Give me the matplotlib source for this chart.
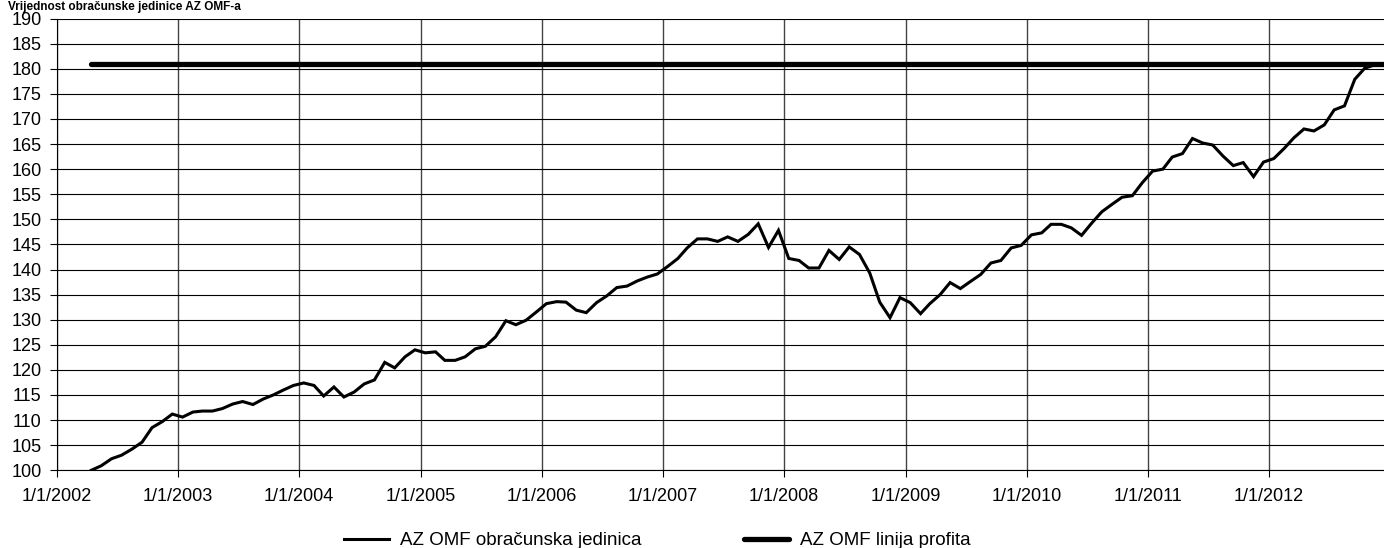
import numpy as np
import pandas as pd
import matplotlib
matplotlib.use("Agg")
import matplotlib.pyplot as plt

plt.rcParams['font.family'] = ['Liberation Sans', 'DejaVu Sans']

# monthly values of the accounting unit, April 2002 - December 2012
jedinica = [100.0, 100.9, 102.3, 103.0, 104.2, 105.6, 108.5, 109.7, 111.2, 110.6,
            111.6, 111.8, 111.8, 112.3, 113.2, 113.7, 113.1, 114.2, 115.0, 116.0,
            116.9, 117.4, 116.9, 114.8, 116.6, 114.6, 115.6, 117.2, 118.0, 121.5,
            120.4, 122.6, 124.0, 123.4, 123.6, 121.9, 121.9, 122.6, 124.2, 124.7,
            126.6, 129.8, 129.0, 129.9, 131.5, 133.2, 133.6, 133.5, 131.9, 131.4,
            133.4, 134.7, 136.4, 136.7, 137.7, 138.5, 139.1, 140.6, 142.2, 144.3,
            146.1, 146.1, 145.6, 146.5, 145.6, 147.0, 149.1, 144.4, 147.8, 142.2,
            141.8, 140.3, 140.3, 143.8, 142.0, 144.5, 143.0, 139.3, 133.5, 130.4,
            134.4, 133.4, 131.2, 133.2, 135.0, 137.4, 136.2, 137.6, 139.0, 141.3,
            141.8, 144.3, 144.8, 146.9, 147.3, 149.0, 149.0, 148.3, 146.8, 149.2,
            151.5, 153.0, 154.4, 154.7, 157.3, 159.6, 160.0, 162.4, 163.1, 166.1,
            165.2, 164.8, 162.6, 160.7, 161.3, 158.5, 161.4, 162.1, 164.1, 166.2,
            168.0, 167.6, 168.8, 171.8, 172.6, 177.9, 180.1, 180.8, 181.0]
profit_level = 181.0

dates = pd.date_range('2002-04-01', periods=len(jedinica), freq='MS') + pd.Timedelta(days=14)
profit = [profit_level] * len(jedinica)

years = list(range(2002, 2013))
tick_dates = [pd.Timestamp(y, 1, 1) for y in years]
tick_labels = ['1/1/%d' % y for y in years]

fig = plt.figure(figsize=(13.84, 5.48), dpi=100)
ax = fig.add_axes([0.041, 0.1418, 0.959, 0.8244])

ax.plot(dates, jedinica, color='black', lw=2.2, solid_joinstyle='miter',
        label='AZ OMF obračunska jedinica', zorder=3)
ax.plot(dates, profit, color='black', lw=3.8, solid_capstyle='round',
        label='AZ OMF linija profita', zorder=4)

ax.set_ylim(100, 190)
ax.set_yticks(np.arange(100, 191, 5))
ax.set_xlim(pd.Timestamp(2002, 1, 1), dates[-1] - pd.Timedelta(days=3))
ax.set_xticks(tick_dates)
ax.set_xticklabels(tick_labels)

ax.grid(axis='y', color='black', lw=0.8)
ax.grid(axis='x', color='#444444', lw=1.0)
ax.set_axisbelow(True)
for s in ['top', 'right']:
    ax.spines[s].set_visible(False)
ax.spines['left'].set_linewidth(0.8)
ax.spines['bottom'].set_linewidth(0.8)
ax.tick_params(axis='both', direction='out', length=5, width=0.8, labelsize=13)
ax.tick_params(axis='y', pad=6)
ax.tick_params(axis='x', pad=8)

# title sits in the narrow strip above the plot
fig.text(0.006, 0.999, 'Vrijednost obračunske jedinice AZ OMF-a', fontsize=8.5,
         fontweight='bold', va='top', ha='left')

fig.legend(loc='center', bbox_to_anchor=(0.475, 0.013), ncol=2, frameon=False,
           fontsize=13.5, handlelength=2.4, handletextpad=0.55, columnspacing=5.5)

fig.savefig('out.png', dpi=100)
